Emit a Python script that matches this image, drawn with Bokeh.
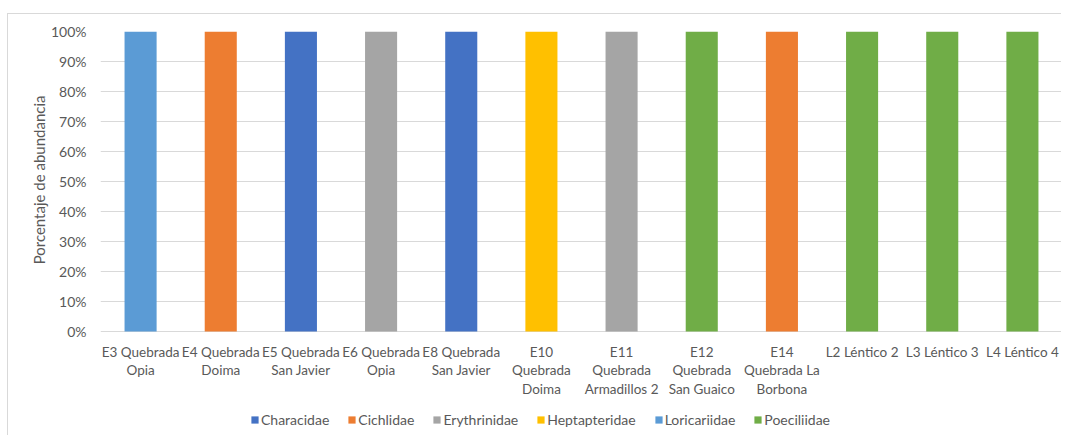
from bokeh.plotting import figure
from bokeh.models import Range1d, FixedTicker, PrintfTickFormatter, Legend, LegendItem, Title, ColumnDataSource
from bokeh.core.properties import value
from bokeh.embed import file_html
from bokeh.resources import INLINE

categories = ["E3 Quebrada Opia", "E4 Quebrada Doima", "E5 Quebrada San Javier",
              "E6 Quebrada Opia", "E8 Quebrada San Javier", "E10 Quebrada Doima",
              "E11 Quebrada Armadillos 2", "E12 Quebrada San Guaico",
              "E14 Quebrada La Borbona", "L2 Léntico 2", "L3 Léntico 3", "L4 Léntico 4"]
tick_labels = ["E3 Quebrada\nOpia", "E4 Quebrada\nDoima", "E5 Quebrada\nSan Javier",
               "E6 Quebrada\nOpia", "E8 Quebrada\nSan Javier", "E10\nQuebrada\nDoima",
               "E11\nQuebrada\nArmadillos 2", "E12\nQuebrada\nSan Guaico",
               "E14\nQuebrada La\nBorbona", "L2 Léntico 2", "L3 Léntico 3", "L4 Léntico 4"]
families = ["Characidae", "Cichlidae", "Erythrinidae", "Heptapteridae", "Loricariidae", "Poeciliidae"]
characidae    = [0, 0, 100, 0, 100, 0, 0, 0, 0, 0, 0, 0]
cichlidae     = [0, 100, 0, 0, 0, 0, 0, 0, 100, 0, 0, 0]
erythrinidae  = [0, 0, 0, 100, 0, 0, 100, 0, 0, 0, 0, 0]
heptapteridae = [0, 0, 0, 0, 0, 100, 0, 0, 0, 0, 0, 0]
loricariidae  = [100, 0, 0, 0, 0, 0, 0, 0, 0, 0, 0, 0]
poeciliidae   = [0, 0, 0, 0, 0, 0, 0, 100, 0, 100, 100, 100]
colors = ["#4472C4", "#ED7D31", "#A5A5A5", "#FFC000", "#5B9BD5", "#70AD47"]
y_ticks = [0, 10, 20, 30, 40, 50, 60, 70, 80, 90, 100]

data = {"cat": categories, "Characidae": characidae, "Cichlidae": cichlidae,
        "Erythrinidae": erythrinidae, "Heptapteridae": heptapteridae,
        "Loricariidae": loricariidae, "Poeciliidae": poeciliidae}

FONT = "Lato"
TXT = "#595959"

# frame extends below 0 so that category labels and legend are drawn inside it
p = figure(x_range=categories, y_range=Range1d(-35, 100), width=1054, height=422,
           output_backend="svg", toolbar_location=None,
           min_border_left=92, min_border_top=17, min_border_bottom=0, min_border_right=0)
p.margin = (13, 0, 0, 7)
p.styles = {"border-left": "1px solid #D9D9D9", "border-top": "1px solid #D9D9D9"}
p.outline_line_color = None

rs = p.vbar_stack(families, x="cat", width=0.4, source=data, color=colors, line_color=None)

# category labels
lab_src = ColumnDataSource({"cat": categories, "y": [0] * len(categories), "txt": tick_labels})
p.text(x="cat", y="y", text="txt", source=lab_src, text_align="center", text_baseline="top",
       y_offset=12, text_font=value(FONT), text_font_size="13.5px", text_color=TXT,
       text_line_height=1.17)

p.xaxis.visible = False
p.xgrid.grid_line_color = None
p.ygrid.grid_line_color = "#D9D9D9"
p.ygrid.grid_line_width = 1

p.yaxis.ticker = FixedTicker(ticks=y_ticks)
p.yaxis.formatter = PrintfTickFormatter(format="%d%%")
p.yaxis.axis_line_color = None
p.yaxis.major_tick_line_color = None
p.yaxis.minor_tick_line_color = None
p.yaxis.major_label_text_font = FONT
p.yaxis.major_label_text_font_size = "14px"
p.yaxis.major_label_text_color = TXT
p.yaxis.major_label_standoff = 8

ytitle = Title(text="Porcentaje de abundancia", align="right", offset=64, standoff=0,
               text_font=FONT, text_font_size="15px", text_font_style="normal",
               text_color=TXT)
p.add_layout(ytitle, "left")

legend = Legend(items=[LegendItem(label=f, renderers=[r]) for f, r in zip(families, rs)],
                orientation="horizontal", location=(150, 8))
legend.glyph_width = 9
legend.glyph_height = 9
legend.label_standoff = 2
legend.spacing = 18
legend.padding = 0
legend.margin = 0
legend.border_line_color = None
legend.background_fill_alpha = 0
legend.label_text_font = FONT
legend.label_text_font_size = "14px"
legend.label_text_color = TXT
p.add_layout(legend, "center")

open("out.html", "w").write(file_html(p, INLINE))
